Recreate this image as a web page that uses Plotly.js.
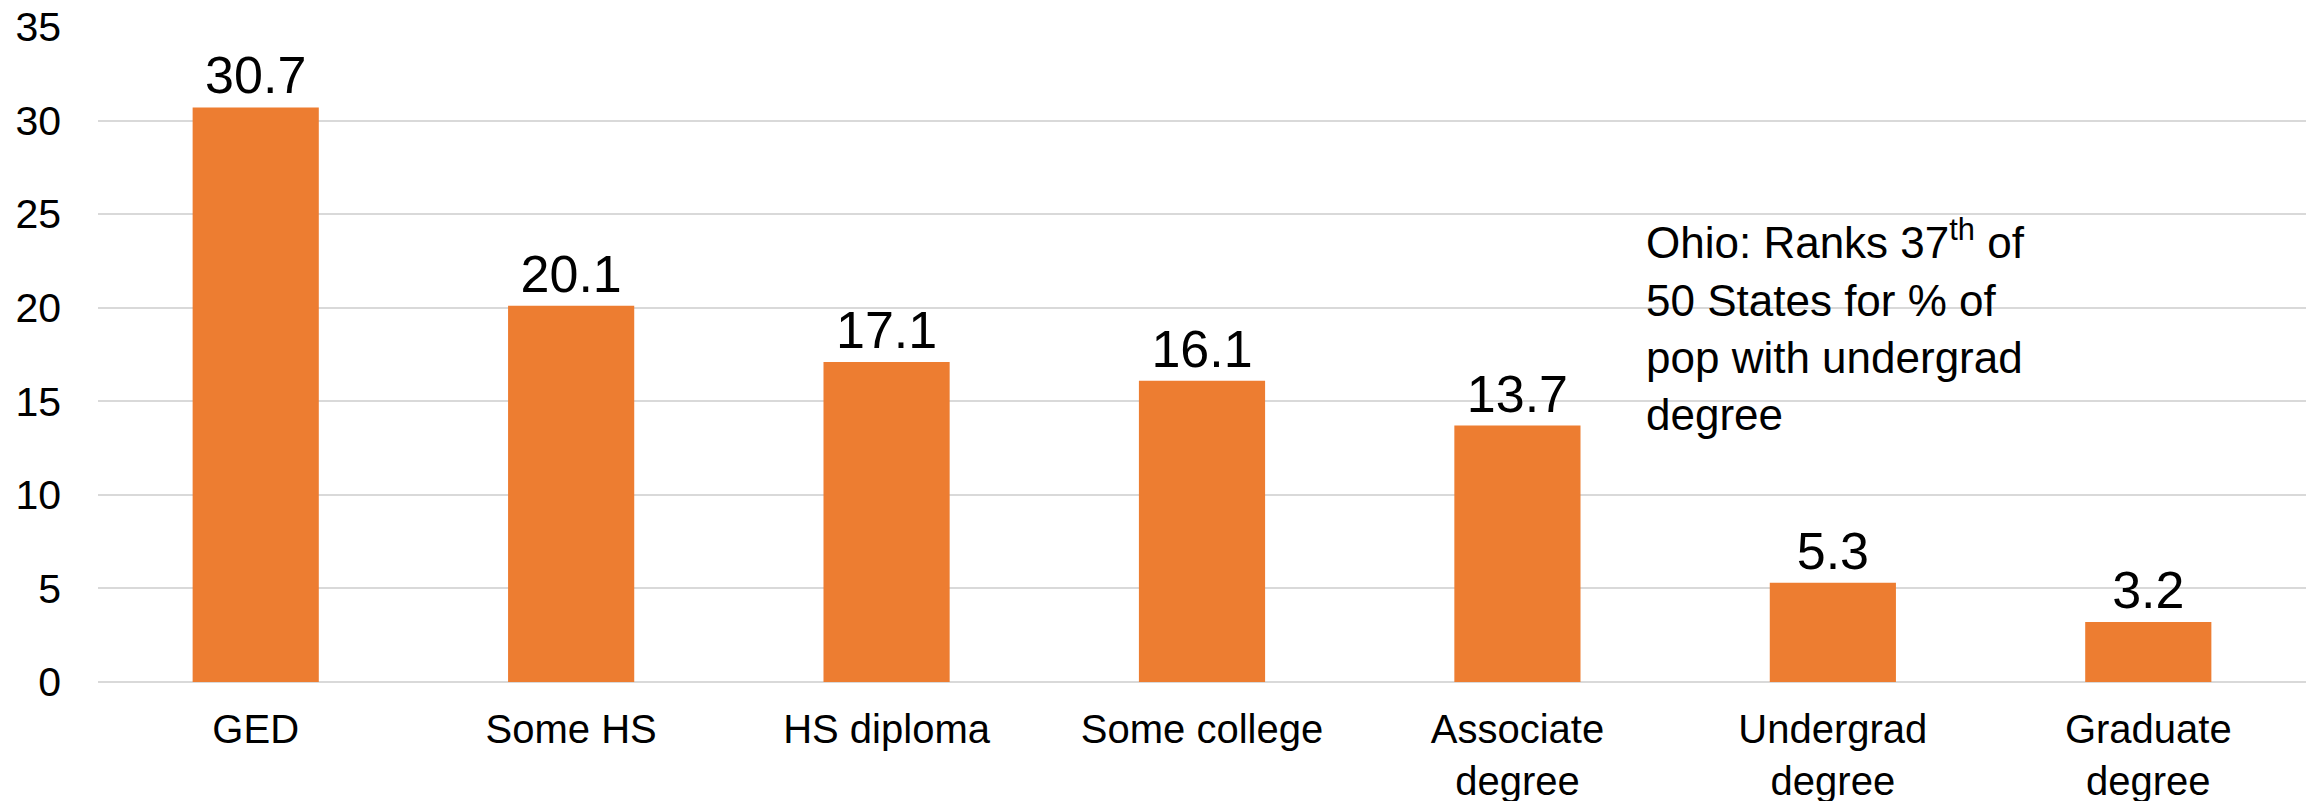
<!DOCTYPE html>
<html>
<head>
<meta charset="utf-8">
<script src="https://cdn.plot.ly/plotly-3.0.1.min.js"></script>
<style>html,body{margin:0;padding:0;background:#fff;}#chart{width:2318px;height:801px;}</style>
</head>
<body>
<div id="chart"></div>
<script>
const categories = ["GED", "Some HS", "HS diploma", "Some college", "Associate<br>degree", "Undergrad<br>degree", "Graduate<br>degree"];
const values = [30.7, 20.1, 17.1, 16.1, 13.7, 5.3, 3.2];
const valueLabels = ["30.7", "20.1", "17.1", "16.1", "13.7", "5.3", "3.2"];
const yTicks = [0, 5, 10, 15, 20, 25, 30, 35];
const noteText = "Ohio: Ranks 37<sup>th</sup> of<br>50 States for % of<br>pop with undergrad<br>degree";

const FONT = "Liberation Sans, Arial, sans-serif";

const trace = {
  type: "bar",
  x: categories,
  y: values,
  text: valueLabels,
  textposition: "outside",
  cliponaxis: false,
  textfont: {family: FONT, size: 52, color: "#000"},
  marker: {color: "#ED7D31"},
  hoverinfo: "none"
};

const layout = {
  width: 2318,
  height: 801,
  margin: {l: 98, r: 12, t: 27, b: 119, pad: 0},
  paper_bgcolor: "#fff",
  plot_bgcolor: "#fff",
  bargap: 0.6,
  showlegend: false,
  font: {family: FONT, color: "#000"},
  xaxis: {
    type: "category",
    tickfont: {family: FONT, size: 40, color: "#000"},
    showgrid: false,
    showline: false,
    ticks: "",
    ticklabelstandoff: 20,
    automargin: false
  },
  yaxis: {
    range: [0, 35],
    tickvals: yTicks,
    ticktext: yTicks.map(String),
    tickfont: {family: FONT, size: 41, color: "#000"},
    showgrid: true,
    gridcolor: "#d9d9d9",
    gridwidth: 2,
    zeroline: true,
    zerolinecolor: "#d9d9d9",
    zerolinewidth: 2,
    showline: false,
    ticks: "",
    ticklabelstandoff: 36,
    automargin: false
  },
  annotations: [{
    xref: "paper",
    yref: "y",
    x: 0.7,
    y: 25.2,
    xanchor: "left",
    yanchor: "top",
    align: "left",
    showarrow: false,
    text: noteText,
    font: {family: FONT, size: 44, color: "#000"}
  }]
};

Plotly.newPlot("chart", [trace], layout, {staticPlot: true, displayModeBar: false});
</script>
</body>
</html>
